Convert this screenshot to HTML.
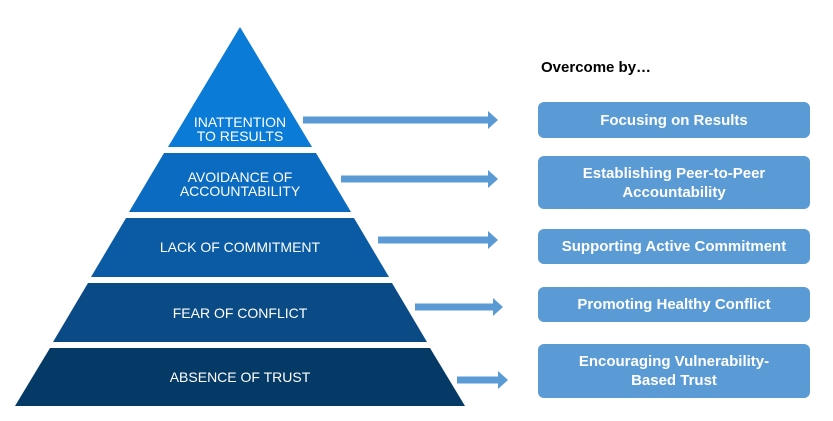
<!DOCTYPE html>
<html><head><meta charset="utf-8"><style>
body{margin:0;background:#fff;width:833px;height:421px;overflow:hidden;font-family:"Liberation Sans",Arial,sans-serif}
.box{position:absolute;left:538px;width:272px;background:#5b9bd5;border-radius:6px;color:#fff;font-weight:bold;font-size:15px;display:flex;align-items:center;justify-content:center;text-align:center;line-height:19px}
</style></head><body>
<svg width="833" height="421" style="position:absolute;left:0;top:0">
<g font-family="Liberation Sans, Arial, sans-serif" font-size="14" fill="#fff" text-anchor="middle">
<polygon points="240,27 312,147 168,147" fill="#0b7bd8"/>
<polygon points="164,153 316,153 351,212 129,212" fill="#0b6bc0"/>
<polygon points="126,218 354,218 389,277 91,277" fill="#0a5ba4"/>
<polygon points="88,283 392,283 427,342 53,342" fill="#0a4a85"/>
<polygon points="50,348 430,348 465,406 15,406" fill="#053a66"/>
<text x="240" y="127">INATTENTION</text><text x="240" y="141">TO RESULTS</text>
<text x="240" y="182">AVOIDANCE OF</text><text x="240" y="196">ACCOUNTABILITY</text>
<text x="240" y="252">LACK OF COMMITMENT</text>
<text x="240" y="318">FEAR OF CONFLICT</text>
<text x="240" y="382">ABSENCE OF TRUST</text>
</g>
<g fill="#5b9bd5">
<rect x="303" y="116.5" width="186" height="7"/><polygon points="488,111 498,120 488,129"/>
<rect x="341" y="175.5" width="148" height="7"/><polygon points="488,170 498,179 488,188"/>
<rect x="378" y="236.5" width="111" height="7"/><polygon points="488,231 498,240 488,249"/>
<rect x="415" y="303.5" width="79" height="7"/><polygon points="493,298 503,307 493,316"/>
<rect x="457" y="376.5" width="42" height="7"/><polygon points="498,371 508,380 498,389"/>
</g>
</svg>
<div style="position:absolute;left:541px;top:59px;font-weight:bold;font-size:15px;color:#000">Overcome by…</div>
<div class="box" style="top:102px;height:36px">Focusing on Results</div>
<div class="box" style="top:156px;height:53px">Establishing Peer-to-Peer<br>Accountability</div>
<div class="box" style="top:229px;height:35px">Supporting Active Commitment</div>
<div class="box" style="top:287px;height:35px">Promoting Healthy Conflict</div>
<div class="box" style="top:344px;height:54px">Encouraging Vulnerability-<br>Based Trust</div>
</body></html>
